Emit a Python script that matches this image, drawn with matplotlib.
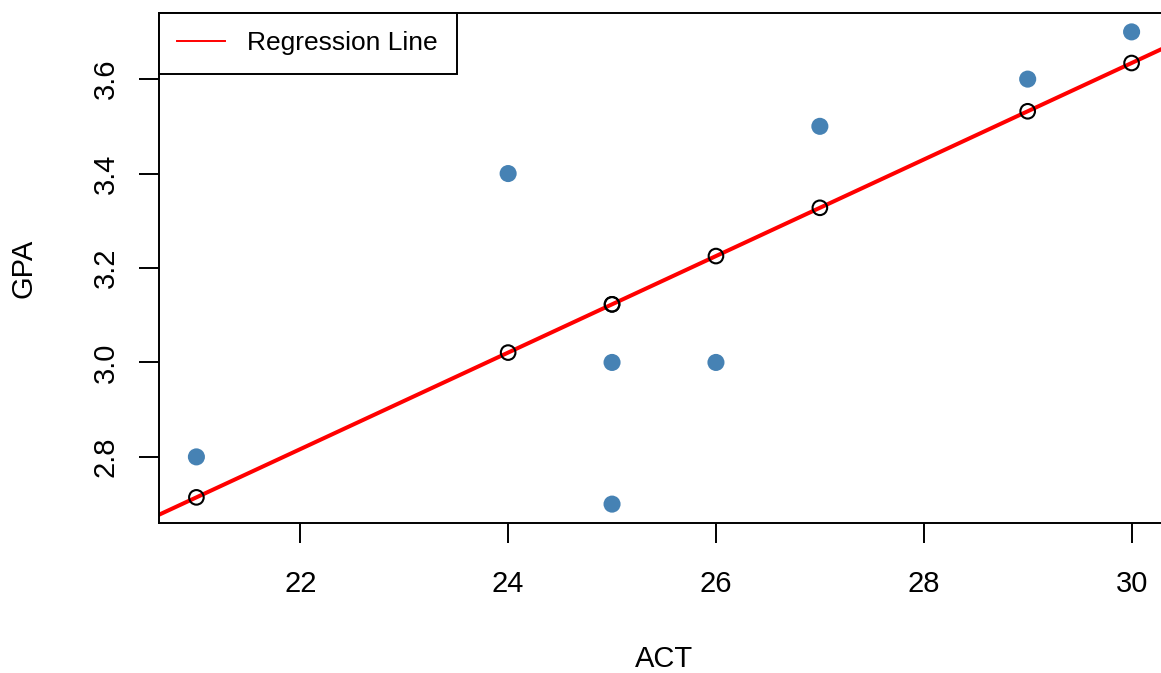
import numpy as np
import matplotlib
matplotlib.use("Agg")
import matplotlib.pyplot as plt
from matplotlib.lines import Line2D

plt.rcParams['font.family'] = ['Liberation Sans', 'DejaVu Sans']

act = [21, 24, 25, 25, 26, 27, 29, 30]
gpa = [2.8, 3.4, 3.0, 2.7, 3.0, 3.5, 3.6, 3.7]
x_ticks = [22, 24, 26, 28, 30]
y_ticks = [2.8, 3.0, 3.2, 3.4, 3.6]

W, H = 1161, 673
fig = plt.figure(figsize=(W / 100, H / 100), dpi=100)
left, right, top, bottom = 159, 1169, 13, 523
ax = fig.add_axes([left / W, (H - bottom) / H, (right - left) / W, (bottom - top) / H])

xa = np.array(act, dtype=float)
ya = np.array(gpa, dtype=float)
slope, intercept = np.polyfit(xa, ya, 1)
fitted = intercept + slope * xa

xlim = (20.64, 30.36)
ylim = (2.66, 3.74)
ax.set_xlim(*xlim)
ax.set_ylim(*ylim)

ax.scatter(act, gpa, s=12.3**2, color='steelblue', edgecolors='none', zorder=3)
xl = np.array(xlim)
ax.plot(xl, intercept + slope * xl, color='red', lw=2.9, zorder=2)
ax.scatter(act, fitted, s=10.5**2, facecolors='none', edgecolors='black', linewidths=1.5, zorder=4)

ax.set_xticks(x_ticks)
ax.set_xticklabels([str(t) for t in x_ticks])
ax.set_yticks(y_ticks)
ax.set_yticklabels([f"{t:.1f}" for t in y_ticks], rotation=90, va='center')
ax.tick_params(axis='both', direction='out', length=14.5, width=1.4, labelsize=21, colors='black')
ax.tick_params(axis='x', pad=19)
ax.tick_params(axis='y', pad=14)
for s in ['left', 'bottom', 'top']:
    ax.spines[s].set_linewidth(1.4)
ax.spines['right'].set_visible(False)

ax.set_xlabel('ACT', fontsize=21, labelpad=34)
ax.set_ylabel('GPA', fontsize=21, labelpad=39)

handle = Line2D([0], [0], color='red', lw=1.4)
leg = ax.legend([handle], ['Regression Line'], loc='upper left', bbox_to_anchor=(0.0, 1.0),
                borderaxespad=0, fontsize=19, fancybox=False, framealpha=1,
                edgecolor='black', handlelength=1.8, handletextpad=0.85,
                borderpad=0.7, labelspacing=0.5)
leg.get_frame().set_linewidth(1.4)
leg.set_zorder(5)

fig.savefig('out.png', dpi=100)
